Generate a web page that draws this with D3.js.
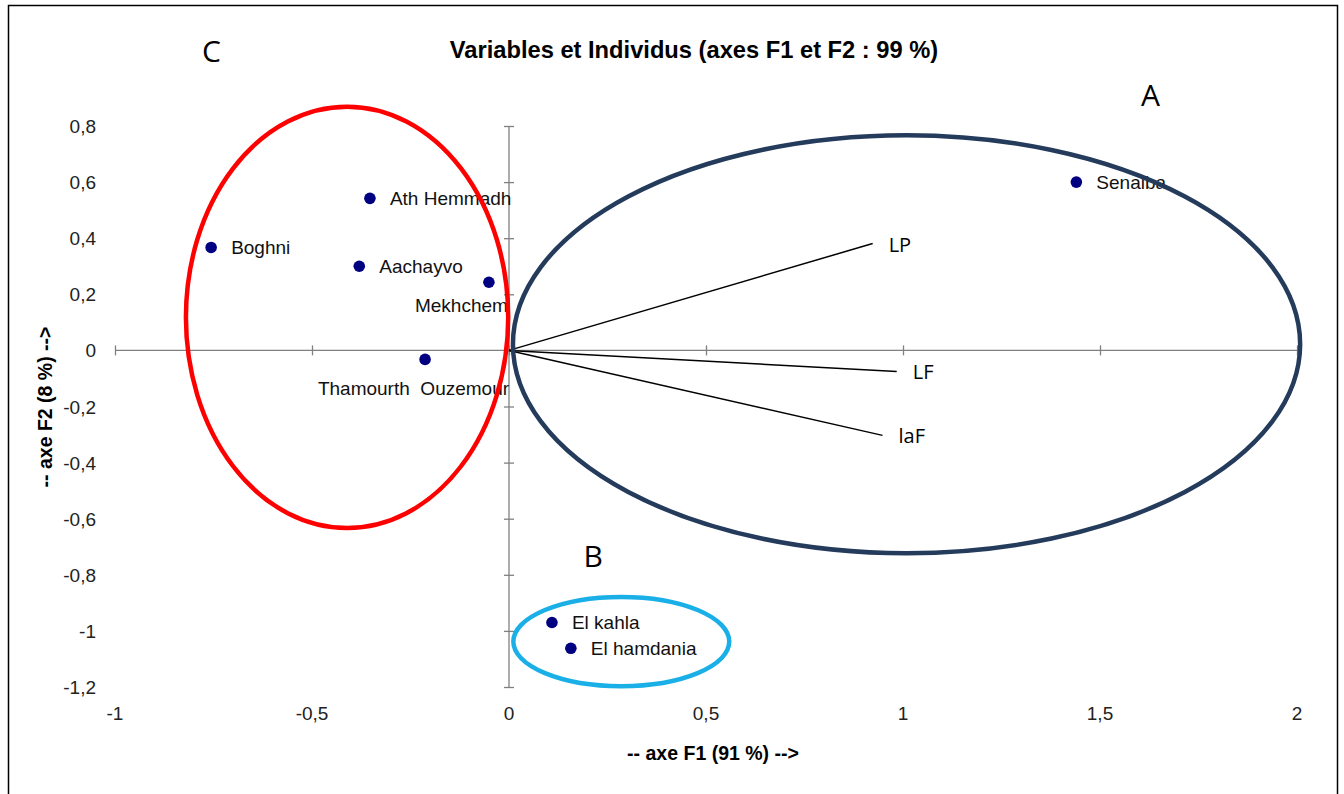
<!DOCTYPE html>
<html>
<head>
<meta charset="utf-8">
<script src="https://cdn.jsdelivr.net/npm/d3@7"></script>
<style>
  body { margin: 0; background: #fff; }
  svg { display: block; font-family: "Liberation Sans", Arial, sans-serif; }
</style>
</head>
<body>
<div id="chart"></div>
<script>
// --- Data ---
const xTicks = [-1, -0.5, 0, 0.5, 1, 1.5, 2];
const yTicks = [0.8, 0.6, 0.4, 0.2, 0, -0.2, -0.4, -0.6, -0.8, -1, -1.2];

const individus = [
    { name: "Senalba", f1: 1.44, f2: 0.60 },
    { name: "Boghni", f1: -0.756, f2: 0.367 },
    { name: "Ath Hemmadh", f1: -0.353, f2: 0.542 },
    { name: "Aachayvo", f1: -0.380, f2: 0.30 },
    { name: "Mekhchem", f1: -0.051, f2: 0.243 },
    { name: "Thamourth  Ouzemour", f1: -0.213, f2: -0.032 },
    { name: "El kahla", f1: 0.109, f2: -0.970 },
    { name: "El hamdania", f1: 0.157, f2: -1.062 }
];

const variables = [
    { name: "LP", f1: 0.923, f2: 0.381 },
    { name: "LF", f1: 0.984, f2: -0.075 },
    { name: "laF", f1: 0.948, f2: -0.303 }
];

// groups drawn as ellipses (centre and radii in axis units)
const groups = [
    { name: "C", cx: -0.411, cy: 0.118, rx: 0.409, ry: 0.751, color: "#ff0000" },
    { name: "A", cx: 1.009, cy: 0.022, rx: 0.999, ry: 0.745, color: "#243b5c" },
    { name: "B", cx: 0.285, cy: -1.038, rx: 0.274, ry: 0.159, color: "#1aafe6" }
];

// --- Setup ---
const width = 1344, height = 794;
const svg = d3.select("#chart").append("svg")
    .attr("width", width)
    .attr("height", height);

// outer frame
svg.append("rect")
    .attr("x", 8.5).attr("y", 5.5)
    .attr("width", 1329).attr("height", 800)
    .attr("fill", "none").attr("stroke", "#000").attr("stroke-width", 1.5);

const x = d3.scaleLinear().domain([-1, 2]).range([115, 1297]);
const y = d3.scaleLinear().domain([-1.2, 0.8]).range([687, 126]);
const fmt = d => String(d).replace(".", ",");
const axisColor = "#808080";

// axes crossing at origin
const xAxis = svg.append("g")
    .attr("transform", `translate(0,${y(0) - 5})`)
    .call(d3.axisBottom(x).tickValues(xTicks).tickSize(10).tickFormat(""));
const yAxis = svg.append("g")
    .attr("transform", `translate(${x(0) + 5},0)`)
    .call(d3.axisLeft(y).tickValues(yTicks).tickSize(10).tickFormat(""));
[xAxis, yAxis].forEach(a => {
    a.select(".domain").remove();
    a.selectAll("line").attr("stroke", axisColor).attr("stroke-width", 1.3);
});
svg.append("line")
    .attr("x1", x(-1)).attr("x2", x(2))
    .attr("y1", y(0)).attr("y2", y(0))
    .attr("stroke", axisColor).attr("stroke-width", 1.3);
svg.append("line")
    .attr("x1", x(0)).attr("x2", x(0))
    .attr("y1", y(0.8)).attr("y2", y(-1.2))
    .attr("stroke", axisColor).attr("stroke-width", 1.3);

// tick labels
svg.append("g").selectAll("text")
    .data(xTicks)
    .join("text")
    .attr("x", d => x(d))
    .attr("y", 720)
    .attr("text-anchor", "middle")
    .attr("font-size", 19)
    .attr("fill", "#222")
    .text(fmt);
svg.append("g").selectAll("text")
    .data(yTicks)
    .join("text")
    .attr("x", 96)
    .attr("y", d => y(d) + 7)
    .attr("text-anchor", "end")
    .attr("font-size", 19)
    .attr("fill", "#222")
    .text(fmt);

// titles
svg.append("text")
    .attr("x", 694).attr("y", 58)
    .attr("text-anchor", "middle")
    .attr("font-size", 23.7).attr("font-weight", "bold")
    .text("Variables et Individus (axes F1 et F2 : 99 %)");
svg.append("text")
    .attr("x", 713).attr("y", 760)
    .attr("text-anchor", "middle")
    .attr("font-size", 19.5).attr("font-weight", "bold")
    .text("-- axe F1 (91 %) -->");
svg.append("text")
    .attr("transform", "translate(52,407) rotate(-90)")
    .attr("text-anchor", "middle")
    .attr("font-size", 19.5).attr("font-weight", "bold")
    .text("-- axe F2 (8 %) -->");

// variable vectors
svg.append("g").selectAll("line")
    .data(variables)
    .join("line")
    .attr("x1", x(0)).attr("y1", y(0))
    .attr("x2", d => x(d.f1)).attr("y2", d => y(d.f2))
    .attr("stroke", "#000").attr("stroke-width", 1.5);
svg.append("g").selectAll("text")
    .data(variables)
    .join("text")
    .attr("x", d => x(d.f1) + 16)
    .attr("y", d => y(d.f2) + 8)
    .attr("font-size", 20)
    .attr("font-family", "'Open Sans', sans-serif")
    .text(d => d.name);

// individuals
const labelPlacement = {
    "Mekhchem": { dx: 19, dy: 30, anchor: "end" },
    "Thamourth  Ouzemour": { dx: 84, dy: 36, anchor: "end" }
};
svg.append("g").selectAll("circle")
    .data(individus)
    .join("circle")
    .attr("cx", d => x(d.f1)).attr("cy", d => y(d.f2))
    .attr("r", 5.8)
    .attr("fill", "#000080");
svg.append("g").selectAll("text")
    .data(individus)
    .join("text")
    .attr("x", d => x(d.f1) + (labelPlacement[d.name] ? labelPlacement[d.name].dx : 20))
    .attr("y", d => y(d.f2) + (labelPlacement[d.name] ? labelPlacement[d.name].dy : 7))
    .attr("text-anchor", d => labelPlacement[d.name] ? labelPlacement[d.name].anchor : "start")
    .attr("font-size", 19)
    .attr("fill", "#111")
    .style("white-space", "pre")
    .text(d => d.name);

// group ellipses and letters
svg.append("g").selectAll("ellipse")
    .data(groups)
    .join("ellipse")
    .attr("cx", d => x(d.cx)).attr("cy", d => y(d.cy))
    .attr("rx", d => x(d.rx) - x(0))
    .attr("ry", d => y(0) - y(d.ry))
    .attr("fill", "none")
    .attr("stroke", d => d.color)
    .attr("stroke-width", 4.5);

const letterPos = { C: [-0.755, 1.028], A: [1.628, 0.872], B: [0.214, -0.772] };
svg.append("g").selectAll("text")
    .data(groups)
    .join("text")
    .attr("x", d => x(letterPos[d.name][0]))
    .attr("y", d => y(letterPos[d.name][1]))
    .attr("text-anchor", "middle")
    .attr("font-size", 30)
    .attr("font-family", "'Open Sans', sans-serif")
    .text(d => d.name);
</script>
</body>
</html>
